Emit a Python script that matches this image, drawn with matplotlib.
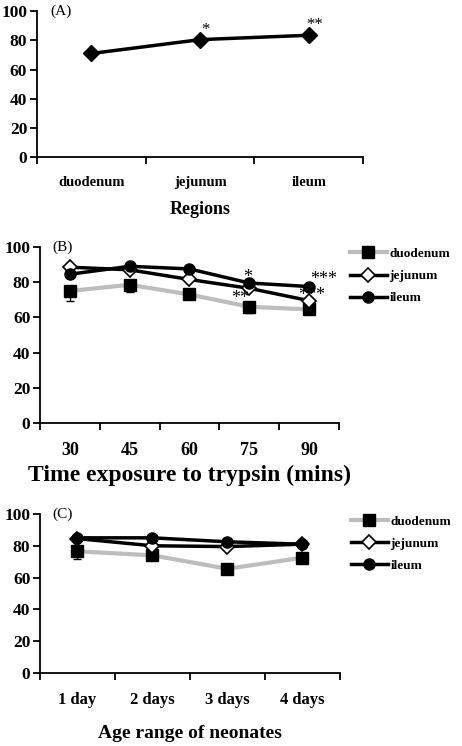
import numpy as np
import matplotlib
matplotlib.use("Agg")
import matplotlib.pyplot as plt

plt.rcParams["font.family"] = ["Liberation Serif", "DejaVu Serif"]

# Panel A
regions = ["duodenum", "jejunum", "ileum"]
region_vals = [71, 80.5, 83.5]
region_err = [1.5, 2.0, 1.5]
region_stars = ["", "*", "**"]

# Panel B
times = ["30", "45", "60", "75", "90"]
time_duo = [75, 78.5, 73, 66, 64.5]
time_duo_err = [5.5, 4, 2.5, 3.5, 2]
time_jej = [88.5, 87, 81.5, 76.5, 69.5]
time_ile = [84.5, 89, 87.5, 79.5, 77.5]

# Panel C
ages = ["1 day", "2 days", "3 days", "4 days"]
age_duo = [76.5, 74, 65.5, 72.5]
age_duo_err = [5, 2, 1.5, 1.5]
age_jej = [84.5, 80, 79.5, 81]
age_ile = [85, 85, 82.5, 81]

yticks = [0, 20, 40, 60, 80, 100]
GREY = "#bdbdbd"


def style_axes(ax, labels, xlabel, xlabel_size, xtick_size, labelpad, panel):
    n = len(labels)
    ax.set_xlim(0, n)
    ax.set_ylim(0, 100)
    ax.set_xticks(np.arange(n + 1))
    ax.set_xticklabels([])
    ax.set_xticks(np.arange(n) + 0.5, minor=True)
    ax.set_xticklabels(labels, minor=True, fontsize=xtick_size, fontweight="bold")
    ax.tick_params(axis="x", which="minor", length=0, pad=14)
    ax.tick_params(axis="x", which="major", direction="out", length=5, width=1.3)
    ax.set_yticks(yticks)
    ax.set_yticklabels([str(v) for v in yticks], fontsize=12.5, fontweight="bold")
    ax.tick_params(axis="y", direction="out", length=5, width=1.3, pad=2)
    ax.spines["top"].set_visible(False)
    ax.spines["right"].set_visible(False)
    ax.spines["left"].set_linewidth(1.3)
    ax.spines["bottom"].set_linewidth(1.3)
    ax.set_xlabel(xlabel, fontsize=xlabel_size, fontweight="bold", labelpad=labelpad)
    ax.text(0.04, 1.0, panel, transform=ax.transAxes, fontsize=11,
            va="center", ha="left")


def three_lines(ax, duo, duo_err, jej, ile):
    x = np.arange(len(duo)) + 0.5
    h1 = ax.errorbar(x, duo, yerr=[duo_err, [0] * len(duo)], color=GREY, lw=3,
                     ecolor="black", elinewidth=1, capsize=3, zorder=2,
                     marker="s", ms=8, mfc="black", mec="black")
    h2, = ax.plot(x, jej, color="black", lw=2.5, marker="D", ms=7, mfc="white",
                  mec="black", mew=1.2, zorder=3)
    h3, = ax.plot(x, ile, color="black", lw=2.5, marker="o", ms=8, mfc="black",
                  mec="black", zorder=4)
    ax.legend([h1[0], h2, h3], ["duodenum", "jejunum", "ileum"],
              loc="upper left", bbox_to_anchor=(1.01, 1.04), frameon=False,
              handlelength=2.8, handletextpad=0.2, labelspacing=0.75,
              borderaxespad=0.2,
              prop={"family": "Liberation Serif", "weight": "bold", "size": 9.5})


fig = plt.figure(figsize=(4.62, 7.46), dpi=100)

# (A)
axA = fig.add_axes([0.080, 0.7895, 0.706, 0.1955])
xa = np.arange(len(regions)) + 0.5
axA.errorbar(xa, region_vals, yerr=region_err, color="black", lw=2.5,
             marker="D", ms=8, capsize=3, elinewidth=1)
for xi, v, s in zip(xa, region_vals, region_stars):
    axA.text(xi + 0.05, v + 4, s, fontsize=12, ha="center")
style_axes(axA, regions, "Regions", 13, 10.5, 8, "(A)")

# (B)
axB = fig.add_axes([0.0866, 0.433, 0.647, 0.236])
three_lines(axB, time_duo, time_duo_err, time_jej, time_ile)
axB.text(3.35, 68, "**", fontsize=13, ha="center")
axB.text(3.48, 80, "*", fontsize=13, ha="center")
axB.text(4.75, 79, "***", fontsize=13, ha="center")
axB.text(4.55, 70, "***", fontsize=13, ha="center")
style_axes(axB, times, "Time exposure to trypsin (mins)", 17, 13, 4, "(B)")

# (C)
axC = fig.add_axes([0.0866, 0.098, 0.649, 0.213])
three_lines(axC, age_duo, age_duo_err, age_jej, age_ile)
style_axes(axC, ages, "Age range of neonates", 14, 12, 12, "(C)")

fig.savefig("out.png", dpi=100)
